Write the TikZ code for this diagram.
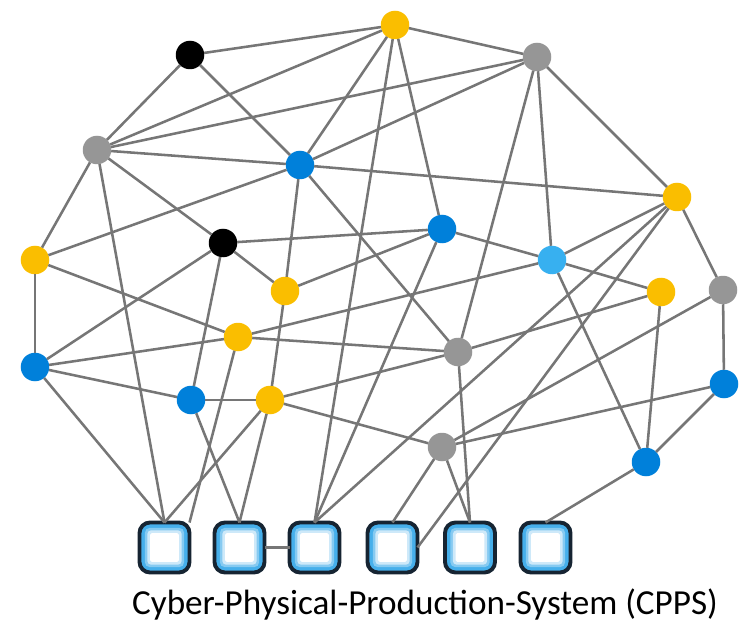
\documentclass[tikz,border=0pt]{standalone}
\usepackage{fontspec}
\setmainfont{Carlito}
\usepackage{tkz-graph}

\definecolor{dotyellow}{RGB}{250,190,0}
\definecolor{dotblue}{RGB}{0,128,218}
\definecolor{dotcyan}{RGB}{55,176,240}
\definecolor{dotgray}{RGB}{150,150,150}
\definecolor{linkgray}{RGB}{118,118,118}
\definecolor{cellblue}{RGB}{70,175,235}
\definecolor{celledge}{RGB}{22,36,50}

\tikzset{
    dot/.style={circle, minimum size=0.57cm, inner sep=0pt, draw=none},
    link/.style={draw=linkgray, line width=1.45pt},
    cell/.style={rectangle, rounded corners=6pt, minimum size=1.0cm, inner sep=0pt,
        draw=celledge, line width=2.2pt, fill=cellblue,
        path picture={
            \fill[white, opacity=0.35, rounded corners=3pt]
                ([shift={(3pt,3pt)}]path picture bounding box.south west) rectangle
                ([shift={(-3pt,-3pt)}]path picture bounding box.north east);
            \fill[white, opacity=0.6, rounded corners=2pt]
                ([shift={(4.5pt,4.5pt)}]path picture bounding box.south west) rectangle
                ([shift={(-4.5pt,-4.5pt)}]path picture bounding box.north east);
            \fill[white, rounded corners=1pt]
                ([shift={(6pt,6pt)}]path picture bounding box.south west) rectangle
                ([shift={(-6pt,-6pt)}]path picture bounding box.north east);
        }},
}

\begin{document}
\begin{tikzpicture}
    \useasboundingbox (0,0) rectangle (14.8,-12.5);
    \GraphInit[vstyle=Normal]\SetVertexNoLabel
    \SetUpEdge[style={line width=1.45pt}, color=linkgray]

    \tikzset{VertexStyle/.style={dot, fill=black}}
    \Vertex[x=3.80,y=-1.10]{K1}
    \Vertex[x=4.46,y=-4.86]{K2}

    \tikzset{VertexStyle/.style={dot, fill=dotgray}}
    \Vertex[x=10.74,y=-1.14]{G1}
    \Vertex[x=1.94,y=-3.00]{G2}
    \Vertex[x=14.46,y=-5.80]{G3}
    \Vertex[x=9.16,y=-7.04]{G4}
    \Vertex[x=8.84,y=-8.94]{G5}

    \tikzset{VertexStyle/.style={dot, fill=dotyellow}}
    \Vertex[x=7.90,y=-0.50]{Y1}
    \Vertex[x=13.54,y=-3.94]{Y2}
    \Vertex[x=0.70,y=-5.20]{Y3}
    \Vertex[x=5.70,y=-5.82]{Y4}
    \Vertex[x=13.22,y=-5.84]{Y5}
    \Vertex[x=4.76,y=-6.74]{Y6}
    \Vertex[x=5.40,y=-8.00]{Y7}

    \tikzset{VertexStyle/.style={dot, fill=dotblue}}
    \Vertex[x=6.00,y=-3.30]{B1}
    \Vertex[x=8.84,y=-4.58]{B2}
    \Vertex[x=0.70,y=-7.34]{B3}
    \Vertex[x=3.82,y=-8.00]{B4}
    \Vertex[x=14.48,y=-7.68]{B5}
    \Vertex[x=12.92,y=-9.24]{B6}

    \tikzset{VertexStyle/.style={dot, fill=dotcyan}}
    \Vertex[x=11.04,y=-5.20]{C1}

    \tikzset{VertexStyle/.style={cell}}
    \Vertex[x=3.29,y=-10.95]{S1}
    \Vertex[x=4.79,y=-10.95]{S2}
    \Vertex[x=6.29,y=-10.95]{S3}
    \Vertex[x=7.85,y=-10.95]{S4}
    \Vertex[x=9.40,y=-10.95]{S5}
    \Vertex[x=10.91,y=-10.95]{S6}

    \Edges(K1, Y1)
    \Edges(K1, G2)
    \Edges(K1, B1)
    \Edges(G2, Y1)
    \Edges(G2, G1)
    \Edges(G2, B1)
    \Edges(G2, Y3)
    \Edges(G2, K2)
    \Edges(Y1, G1)
    \Edges(Y1, B1)
    \Edges(Y1, B2)
    \Edges(B1, Y3)
    \Edges(B1, G1)
    \Edges(B1, Y2)
    \Edges(B1, Y4)
    \Edges(B1, G4)
    \Edges(G1, Y2)
    \Edges(G1, C1)
    \Edges(G1, G4)
    \Edges(Y2, C1)
    \Edges(Y2, G3)
    \Edges(K2, B2)
    \Edges(K2, B3)
    \Edges(K2, B4)
    \Edges(K2, Y4)
    \Edges(B2, Y4)
    \Edges(B2, C1)
    \Edges(C1, Y6)
    \Edges(C1, Y5)
    \Edges(C1, B6)
    \Edges(Y3, Y6)
    \Edges(Y3, B3)
    \Edges(B3, Y6)
    \Edges(B3, B4)
    \Edges(B4, Y7)
    \Edges(Y4, Y7)
    \Edges(Y6, G4)
    \Edges(Y7, G4)
    \Edges(Y7, G5)
    \Edges(G4, Y5)
    \Edges(Y5, B6)
    \Edges(G3, B5)
    \Edges(G3, G5)
    \Edges(B5, B6)
    \Edges(B5, G5)

    \draw[link] (G2) -- (S1.north);
    \draw[link] (B3) -- (S1.north);
    \draw[link] (Y7) -- (S1.north);
    \draw[link] (Y6) -- (S1.north east);
    \draw[link] (B4) -- (S2.north);
    \draw[link] (Y7) -- (S2.north);
    \draw[link] (Y1) -- (S3.north);
    \draw[link] (B2) -- (S3.north);
    \draw[link] (Y2) -- (S3.north);
    \draw[link] (Y2) -- (S4.east);
    \draw[link] (G5) -- (S4.north);
    \draw[link] (G4) -- (S5.north);
    \draw[link] (G5) -- (S5.north);
    \draw[link] (B6) -- (S6.north);
    \draw[link] (S2) -- (S3);

    \node (cpps) at (8.50,-12.08) {\fontsize{20}{24}\selectfont Cyber-Physical-Production-System (CPPS)};
\end{tikzpicture}
\end{document}
